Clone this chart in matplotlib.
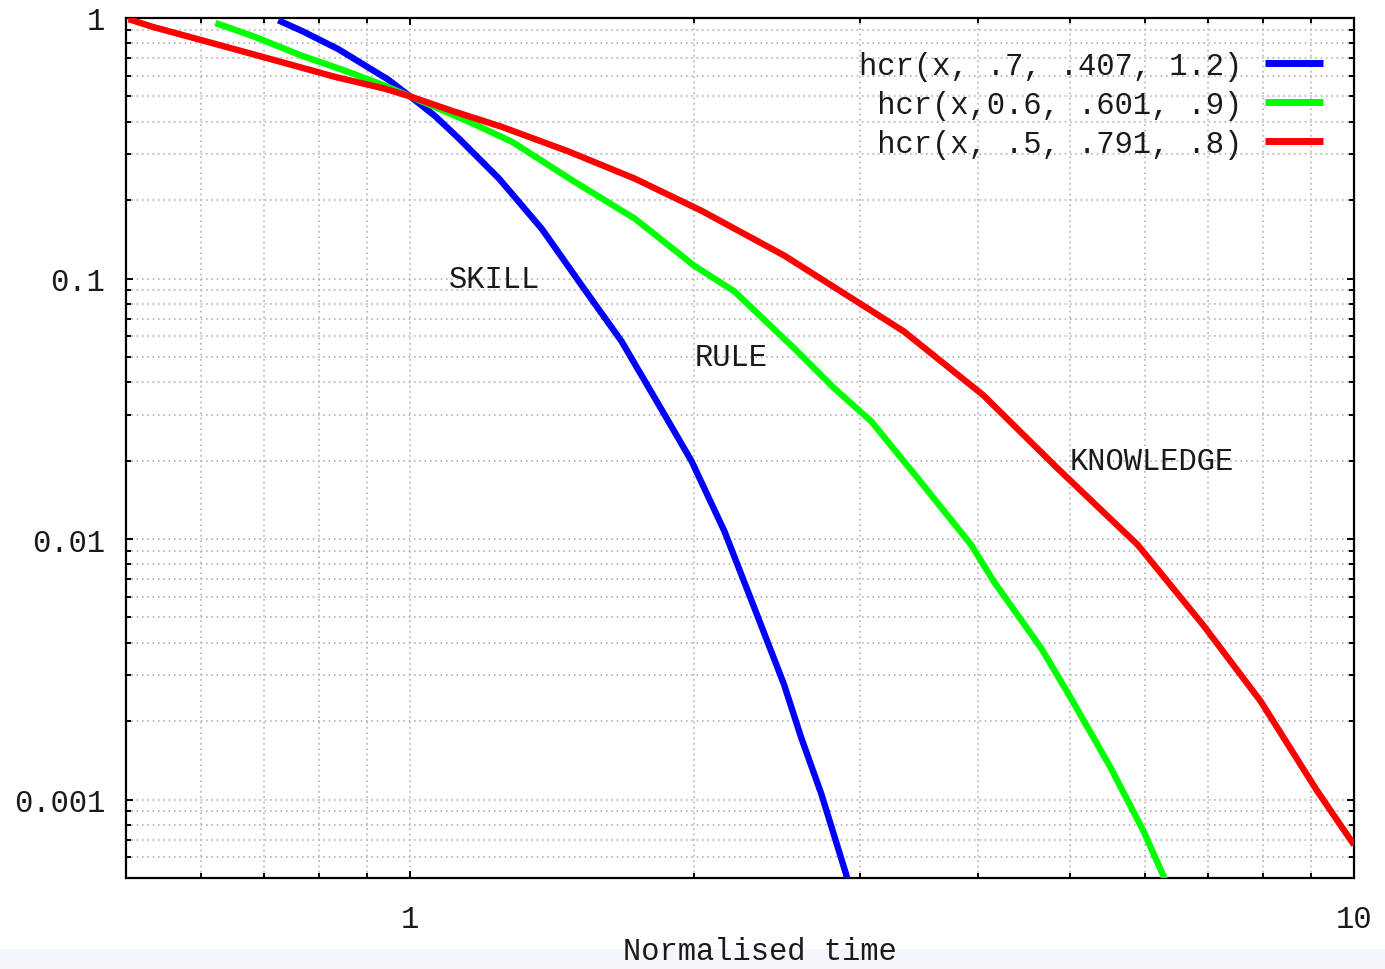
import matplotlib
matplotlib.use("Agg")
import matplotlib.pyplot as plt
from matplotlib.ticker import LogLocator, NullFormatter, FixedLocator
from matplotlib.patches import Rectangle

# ---- data ----
skill_x = [0.725, 0.769, 0.839, 0.948, 1.0, 1.063, 1.127, 1.242, 1.379, 1.52, 1.675,
           1.878, 1.987, 2.153, 2.338, 2.49, 2.596, 2.727, 2.897, 2.911]
skill_y = [0.98, 0.89, 0.76, 0.58, 0.50, 0.42, 0.344, 0.242, 0.155, 0.094, 0.0574,
           0.0283, 0.0199, 0.0107, 0.00498, 0.00276, 0.00173, 0.00105, 0.000516, 0.00048]

rule_x = [0.622, 0.681, 0.769, 0.854, 0.941, 1.0, 1.154, 1.282, 1.494, 1.729, 2.0,
          2.206, 2.553, 2.814, 3.08, 3.45, 3.93, 4.15, 4.66, 5.01, 5.52, 5.98, 6.28, 6.35]
rule_y = [0.957, 0.853, 0.715, 0.627, 0.549, 0.50, 0.40, 0.335, 0.235, 0.170, 0.112,
          0.0892, 0.0539, 0.0379, 0.0283, 0.0171, 0.0095, 0.0069, 0.00382, 0.00246,
          0.00133, 0.00076, 0.000511, 0.00045]

know_x = [0.503, 0.534, 0.584, 0.698, 0.833, 0.941, 1.0, 1.108, 1.251, 1.473, 1.729,
          2.036, 2.491, 3.055, 3.336, 4.05, 4.85, 5.90, 6.92, 7.96, 9.14, 10.0]
know_y = [0.99, 0.924, 0.846, 0.709, 0.594, 0.535, 0.50, 0.44, 0.382, 0.307, 0.242,
          0.182, 0.1225, 0.0767, 0.0626, 0.0356, 0.0187, 0.0095, 0.00468, 0.00239,
          0.00108, 0.00067]

legend_labels = ["hcr(x, .7, .407, 1.2)", " hcr(x,0.6, .601, .9)", " hcr(x, .5, .791, .8)"]
series_colors = ["#0000ff", "#00ff00", "#ff0000"]

annot_text = ["SKILL", "RULE", "KNOWLEDGE"]
annot_x = [1.1, 2.0, 5.0]
annot_y = [0.1, 0.05, 0.02]

yticks = [1, 0.1, 0.01, 0.001]
ytick_labels = ["1", "0.1", "0.01", "0.001"]
xticks = [1, 10]
xtick_labels = ["1", "10"]
xlabel = "Normalised time"

# ---- figure ----
FONT = "Liberation Mono"
FS = 22
TXT = "#1a1a1a"
plt.rcParams["font.family"] = [FONT, "DejaVu Sans"]

W, H = 1385, 970
fig = plt.figure(figsize=(W / 100, H / 100), dpi=100)
fig.patch.set_facecolor("white")
ax = fig.add_axes([126 / W, 1 - 879 / H, (1354 - 126) / W, (879 - 19) / H])

ax.set_xscale("log")
ax.set_yscale("log")
ax.set_xlim(0.5, 10)
ax.set_ylim(0.0005, 1)

for xs, ys, c, lab in zip([skill_x, rule_x, know_x], [skill_y, rule_y, know_y],
                          series_colors, legend_labels):
    ax.plot(xs, ys, color=c, lw=4.6, label=lab, solid_capstyle="butt",
            solid_joinstyle="round", zorder=3)

# ticks
ax.xaxis.set_major_locator(FixedLocator(xticks))
ax.set_xticklabels(xtick_labels)
ax.xaxis.set_minor_locator(LogLocator(base=10, subs=[2, 3, 4, 5, 6, 7, 8, 9], numticks=20))
ax.xaxis.set_minor_formatter(NullFormatter())
ax.yaxis.set_major_locator(FixedLocator(yticks))
ax.set_yticklabels(ytick_labels)
ax.yaxis.set_minor_locator(LogLocator(base=10, subs=[2, 3, 4, 5, 6, 7, 8, 9], numticks=20))
ax.yaxis.set_minor_formatter(NullFormatter())

ax.tick_params(which="both", direction="in", top=True, right=True, width=1.4, color="black")
ax.tick_params(which="major", length=5.3)
ax.tick_params(which="minor", length=3.3)
ax.tick_params(axis="x", which="major", pad=19, labelsize=FS, labelcolor=TXT)
ax.tick_params(axis="y", which="major", pad=15, labelsize=FS, labelcolor=TXT)
for lab in ax.get_xticklabels() + ax.get_yticklabels():
    lab.set_fontfamily(FONT)

for s in ax.spines.values():
    s.set_linewidth(1.6)
    s.set_color("black")

ax.grid(True, which="both", color="#b4b4b4", linestyle=(0, (1, 2.2)), linewidth=1.2, zorder=1)
ax.set_axisbelow(True)

# annotations
for t, x, y in zip(annot_text, annot_x, annot_y):
    ax.text(x, y, t, ha="left", va="center", fontsize=FS, color=TXT, family=FONT, zorder=4)

# legend
leg = ax.legend(loc="upper right", bbox_to_anchor=((1323 - 126) / 1228, 1 - (52 - 19) / 860),
                frameon=False, markerfirst=False, handlelength=1.9,
                handletextpad=0.75, labelspacing=0.29, borderpad=0, borderaxespad=0,
                prop={"family": FONT, "size": FS})
for t in leg.get_texts():
    t.set_color(TXT)
for h in leg.get_lines():
    h.set_linewidth(5)

# bottom band (screenshot strip) and x label
fig.patches.append(Rectangle((0, 0), 1, 20 / H, transform=fig.transFigure,
                             facecolor="#f3f7fb", edgecolor="none", zorder=0))
fig.text(760 / W, 1 - 952 / H, xlabel, ha="center", va="center", fontsize=FS,
         color=TXT, family=FONT)

fig.savefig("out.png", dpi=100)
